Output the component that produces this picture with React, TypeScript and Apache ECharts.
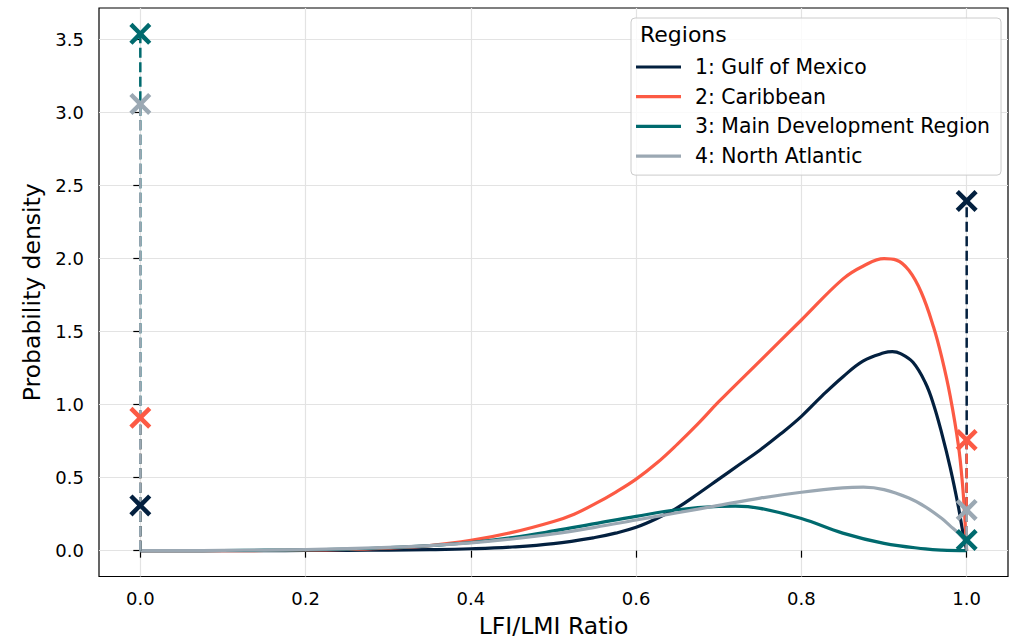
import React, { useEffect, useRef } from "react";
import * as echarts from "echarts";

const regionNames = [
  "1: Gulf of Mexico",
  "2: Caribbean",
  "3: Main Development Region",
  "4: North Atlantic",
];
const regionColors = ["#03203f", "#fc5a44", "#006a6e", "#9ba8b3"];

// density curves: [ratio, density]
const gulfCurve: [number, number][] = [
  [0, 0], [0.05, 0], [0.1, 0], [0.15, 0], [0.2, 0.001], [0.25, 0.002], [0.3, 0.004],
  [0.35, 0.007], [0.4, 0.013], [0.45, 0.025], [0.5, 0.048], [0.55, 0.09], [0.575, 0.12],
  [0.6, 0.16], [0.625, 0.22], [0.65, 0.295], [0.675, 0.39], [0.7, 0.49], [0.725, 0.59],
  [0.75, 0.69], [0.775, 0.8], [0.8, 0.92], [0.825, 1.06], [0.85, 1.19], [0.875, 1.3],
  [0.9, 1.355], [0.91, 1.363], [0.92, 1.35], [0.935, 1.29], [0.95, 1.15], [0.96, 1.0],
  [0.97, 0.8], [0.98, 0.57], [0.99, 0.3], [0.995, 0.14], [1.0, 0],
];
const caribbeanCurve: [number, number][] = [
  [0, 0], [0.05, 0], [0.1, 0], [0.15, 0.001], [0.2, 0.003], [0.25, 0.008], [0.3, 0.017],
  [0.35, 0.035], [0.4, 0.07], [0.45, 0.125], [0.5, 0.2], [0.525, 0.25], [0.55, 0.32],
  [0.575, 0.4], [0.6, 0.49], [0.625, 0.6], [0.65, 0.73], [0.675, 0.87], [0.7, 1.02],
  [0.75, 1.3], [0.8, 1.58], [0.85, 1.86], [0.875, 1.95], [0.9, 2.0], [0.915, 1.99],
  [0.93, 1.92], [0.945, 1.77], [0.96, 1.53], [0.97, 1.32], [0.98, 1.06], [0.99, 0.72],
  [0.995, 0.45], [0.998, 0.2], [1.0, 0],
];
const mdrCurve: [number, number][] = [
  [0, 0], [0.05, 0], [0.1, 0.001], [0.15, 0.003], [0.2, 0.006], [0.25, 0.011], [0.3, 0.02],
  [0.35, 0.034], [0.4, 0.056], [0.45, 0.09], [0.5, 0.135], [0.55, 0.185], [0.6, 0.235],
  [0.65, 0.28], [0.7, 0.303], [0.72, 0.305], [0.75, 0.29], [0.8, 0.22], [0.85, 0.12],
  [0.9, 0.05], [0.95, 0.012], [0.97, 0.004], [1.0, 0],
];
const atlanticCurve: [number, number][] = [
  [0, 0], [0.05, 0], [0.1, 0.002], [0.15, 0.004], [0.2, 0.008], [0.25, 0.014], [0.3, 0.022],
  [0.35, 0.035], [0.4, 0.053], [0.45, 0.08], [0.5, 0.115], [0.55, 0.16], [0.6, 0.21],
  [0.65, 0.26], [0.7, 0.31], [0.75, 0.36], [0.8, 0.4], [0.85, 0.43], [0.875, 0.435],
  [0.9, 0.418], [0.93, 0.36], [0.95, 0.3], [0.97, 0.22], [0.98, 0.17], [0.99, 0.12],
  [0.997, 0.075],
];
const curves = [gulfCurve, caribbeanCurve, mdrCurve, atlanticCurve];

// point masses (drawn as X markers with dashed stems)
const massAtZero = [0.31, 0.91, 3.54, 3.06];
const massAtOne = [2.395, 0.758, 0.073, 0.279];

const xTicks = [0, 0.2, 0.4, 0.6, 0.8, 1.0];
const yTicks = [0, 0.5, 1.0, 1.5, 2.0, 2.5, 3.0, 3.5];

const FONT = "DejaVu Sans";
const a = 0.29;
const X_SYMBOL =
  `path://M-1,${-1 + a}L${-1 + a},-1L0,${-a}L${1 - a},-1L1,${-1 + a}L${a},0L1,${1 - a}L${1 - a},1L0,${a}L${-1 + a},1L-1,${1 - a}L${-a},0Z`;

export default function App() {
  const ref = useRef<HTMLDivElement>(null);
  useEffect(() => {
    if (!ref.current) return;
    const chart = echarts.init(ref.current, undefined, { renderer: "svg" });

    const curveSeries = regionNames.map((name, i) => ({
      name,
      type: "line",
      data: curves[i],
      showSymbol: false,
      symbol: "none",
      smooth: 0.4,
      lineStyle: { color: regionColors[i], width: 3.2, join: "round" },
      itemStyle: { color: regionColors[i] },
      z: 2,
    }));
    const stemSeries: any[] = [];
    regionNames.forEach((name, i) => {
      [
        [[0, 0], [0, massAtZero[i]]],
        [[1, 0], [1, massAtOne[i]]],
      ].forEach((d) => {
        stemSeries.push({
          name,
          type: "line",
          data: d,
          symbol: "none",
          showSymbol: false,
          lineStyle: { color: regionColors[i], width: 2.5, type: [10, 4.5] },
          itemStyle: { color: regionColors[i] },
          z: 3,
        });
      });
    });
    const markerSeries = regionNames.map((name, i) => ({
      name,
      type: "scatter",
      data: [
        [0, massAtZero[i]],
        [1, massAtOne[i]],
      ],
      symbol: X_SYMBOL,
      symbolSize: 22,
      itemStyle: { color: regionColors[i], opacity: 1 },
      z: 4,
    }));

    chart.setOption({
      animation: false,
      textStyle: { fontFamily: FONT },
      grid: {
        left: 99,
        top: 8,
        width: 909,
        height: 568.5,
        show: true,
        borderColor: "#000",
        borderWidth: 1.2,
        backgroundColor: "transparent",
      },
      xAxis: {
        type: "value",
        min: -0.05,
        max: 1.05,
        name: "LFI/LMI Ratio",
        nameLocation: "middle",
        nameGap: 37,
        nameTextStyle: { fontSize: 23.5, color: "#000", fontFamily: FONT },
        axisLine: { show: false },
        axisTick: { show: true, inside: false, length: 7, customValues: xTicks, lineStyle: { color: "#000", width: 1.2 } },
        axisLabel: {
          customValues: xTicks,
          formatter: (v: number) => v.toFixed(1),
          fontSize: 18,
          color: "#000",
          margin: 13,
          fontFamily: FONT,
        },
        splitLine: { show: true, lineStyle: { color: "#e3e3e3", width: 1.2 } },
      },
      yAxis: {
        type: "value",
        min: -0.177,
        max: 3.717,
        name: "Probability density",
        nameLocation: "middle",
        nameGap: 55,
        nameTextStyle: { fontSize: 23.5, color: "#000", fontFamily: FONT },
        axisLine: { show: false },
        axisTick: { show: true, inside: false, length: 7, customValues: yTicks, lineStyle: { color: "#000", width: 1.2 } },
        axisLabel: {
          customValues: yTicks,
          formatter: (v: number) => v.toFixed(1),
          fontSize: 18,
          color: "#000",
          margin: 15,
          fontFamily: FONT,
        },
        splitLine: { show: true, lineStyle: { color: "#e3e3e3", width: 1.2 } },
      },
      legend: {
        orient: "vertical",
        left: 631,
        top: 18,
        padding: [38, 11, 8, 5],
        itemWidth: 45,
        itemHeight: 3.2,
        itemGap: 7.7,
        icon: "rect",
        data: regionNames.map((n) => ({ name: n, icon: "rect" })),
        textStyle: { fontSize: 20.4, color: "#000", fontFamily: FONT, lineHeight: 22, padding: [0, 0, 0, 9] },
        backgroundColor: "rgba(255,255,255,0.8)",
        borderColor: "#cccccc",
        borderWidth: 1,
        borderRadius: 4,
      },
      graphic: [
        {
          type: "text",
          left: 640,
          top: 23,
          z: 100,
          style: { text: "Regions", fontSize: 22, fontFamily: FONT, fill: "#000" },
        },
      ],
      series: [...curveSeries, ...stemSeries, ...markerSeries],
    });
    return () => chart.dispose();
  }, []);
  return (
    <div
      ref={ref}
      style={{ position: "absolute", left: 0, top: 0, width: 1020, height: 643, background: "#fff" }}
    />
  );
}
